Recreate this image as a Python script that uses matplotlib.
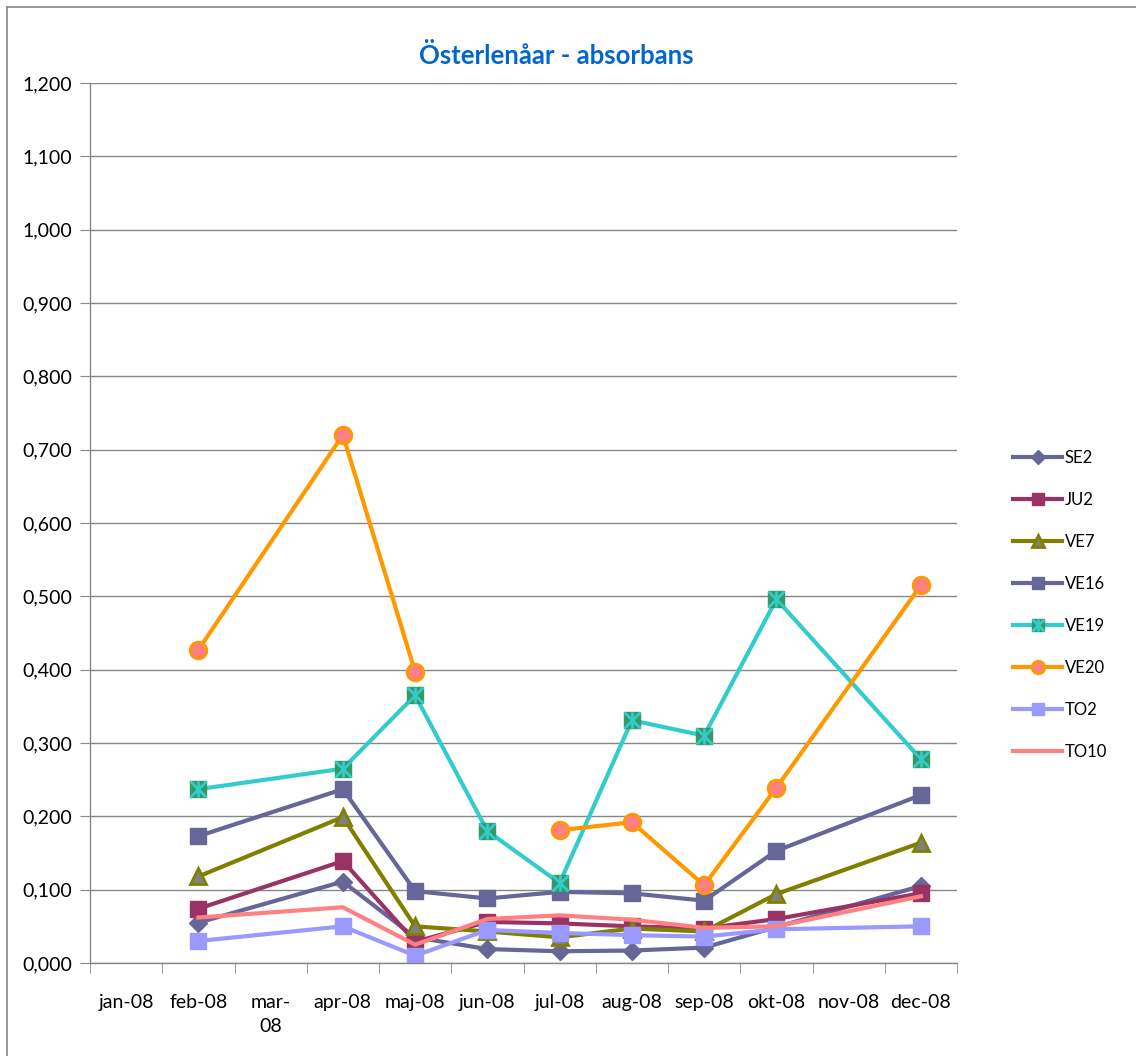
import numpy as np
import matplotlib.pyplot as plt
from matplotlib.lines import Line2D
from matplotlib.legend_handler import HandlerTuple

plt.rcParams['font.family'] = ['Lato', 'DejaVu Sans']

months = ["jan-08", "feb-08", "mar-\n08", "apr-08", "maj-08", "jun-08",
          "jul-08", "aug-08", "sep-08", "okt-08", "nov-08", "dec-08"]
nan = np.nan

# values per month (jan..dec), nan = no sample
se2 = [nan, 0.055, nan, 0.111, 0.035, 0.019, 0.016, 0.017, 0.021, nan, nan, 0.105]
ju2 = [nan, 0.074, nan, 0.139, 0.029, 0.056, 0.054, 0.050, 0.047, 0.060, nan, 0.095]
ve7 = [nan, 0.118, nan, 0.199, 0.050, 0.043, 0.035, 0.047, 0.043, 0.094, nan, 0.164]
ve16 = [nan, 0.173, nan, 0.237, 0.098, 0.088, 0.097, 0.095, 0.085, 0.153, nan, 0.229]
ve19 = [nan, 0.237, nan, 0.265, 0.365, 0.180, 0.109, 0.331, 0.310, 0.496, nan, 0.278]
ve20 = [nan, 0.427, nan, 0.720, 0.397, nan, 0.181, 0.192, 0.106, 0.239, nan, 0.515]
to2 = [nan, 0.030, nan, 0.050, 0.010, 0.045, 0.041, 0.038, 0.036, 0.046, nan, 0.050]
to10 = [nan, 0.062, nan, 0.076, 0.025, 0.060, 0.065, 0.059, 0.048, 0.050, nan, 0.091]

W, H = 1136, 1056
fig = plt.figure(figsize=(W / 100, H / 100), dpi=100)
ax = fig.add_axes([90 / W, 1 - 963 / H, (957 - 90) / W, (963 - 83) / H])

x = np.arange(12)
grid_c = "#868686"


def series(vals):
    # empty months are skipped so the line runs straight across them
    v = np.array(vals, dtype=float)
    m = ~np.isnan(v)
    return x[m], v[m]


lw = 3.0
handles = []

xs, ys = series(se2)
h, = ax.plot(xs, ys, color="#666699", lw=lw, marker="D", ms=9.5,
             mfc="#666699", mec="#666699", label="SE2")
handles.append(h)

xs, ys = series(ju2)
h, = ax.plot(xs, ys, color="#993366", lw=lw, marker="s", ms=11,
             mfc="#993366", mec="#993366", label="JU2")
handles.append(h)

xs, ys = series(ve7)
h, = ax.plot(xs, ys, color="#808000", lw=lw, marker="^", ms=12,
             mfc="#808080", mec="#808000", mew=2, label="VE7")
handles.append(h)

xs, ys = series(ve16)
h, = ax.plot(xs, ys, color="#666699", lw=lw, marker="s", ms=11.5,
             mfc="#666699", mec="#666699", label="VE16")
handles.append(h)

xs, ys = series(ve19)
h1, = ax.plot(xs, ys, color="#33CCCC", lw=lw, marker="s", ms=11.5,
              mfc="#339966", mec="#339966", label="VE19")
h2, = ax.plot(xs, ys, ls="none", marker="x", ms=11, mec="#33CCCC", mew=2)
h3, = ax.plot(xs, ys, ls="none", marker="|", ms=12, mec="#33CCCC", mew=2)
handles.append((h1, h2, h3))

# VE20 has a real gap at jun (line broken there)
v20 = np.array(ve20, dtype=float)
keep = np.ones(12, bool)
keep[[0, 2, 10]] = False
h, = ax.plot(x[keep], v20[keep], color="#FF9900", lw=lw, marker="o", ms=12,
             mfc="#FF8080", mec="#FF9900", mew=2, label="VE20")
handles.append(h)

xs, ys = series(to2)
h, = ax.plot(xs, ys, color="#9999FF", lw=lw, marker="s", ms=11,
             mfc="#9999FF", mec="#9999FF", label="TO2")
handles.append(h)

xs, ys = series(to10)
h, = ax.plot(xs, ys, color="#FF8080", lw=lw, label="TO10")
handles.append(h)

ax.set_xlim(-0.5, 11.5)
ax.set_ylim(0, 1.2)
yt = np.arange(0, 1.21, 0.1)
ax.set_yticks(yt)
ax.set_yticklabels([f"{v:.3f}".replace(".", ",") for v in yt], fontsize=14)
ax.yaxis.grid(True, color=grid_c, lw=1)
ax.set_axisbelow(True)

ax.set_xticks(x)
ax.set_xticklabels(months, fontsize=14, linespacing=1.5)
ax.set_xticks(np.arange(-0.5, 12, 1), minor=True)
ax.tick_params(axis="x", which="major", length=0, pad=22)
ax.tick_params(axis="x", which="minor", length=7, color=grid_c, direction="out")
ax.tick_params(axis="y", length=7, color=grid_c, direction="out", pad=6)

for s in ["top", "right"]:
    ax.spines[s].set_visible(False)
for s in ["left", "bottom"]:
    ax.spines[s].set_color(grid_c)
    ax.spines[s].set_linewidth(1)

fig.text(556 / W, 1 - 56 / H, "Österlenåar - absorbans", ha="center", va="center",
         fontsize=18.5, fontweight="bold", color="#0066CC")

labels = ["SE2", "JU2", "VE7", "VE16", "VE19", "VE20", "TO2", "TO10"]
fig.legend(handles, labels, loc="upper left", bbox_to_anchor=(1013 / W, 1 - 450 / H),
           frameon=False, fontsize=12, handlelength=2.95, labelspacing=1.56,
           handletextpad=0.15, markerscale=0.75, borderpad=0, borderaxespad=0,
           handler_map={tuple: HandlerTuple(ndivide=1, pad=0)})

# chart area border
fig.add_artist(Line2D([7 / W, 7 / W], [0, 1 - 7 / H], color=grid_c, lw=1.2))
fig.add_artist(Line2D([7 / W, 1], [1 - 7 / H, 1 - 7 / H], color=grid_c, lw=1.2))

fig.savefig("out.png", dpi=100)
